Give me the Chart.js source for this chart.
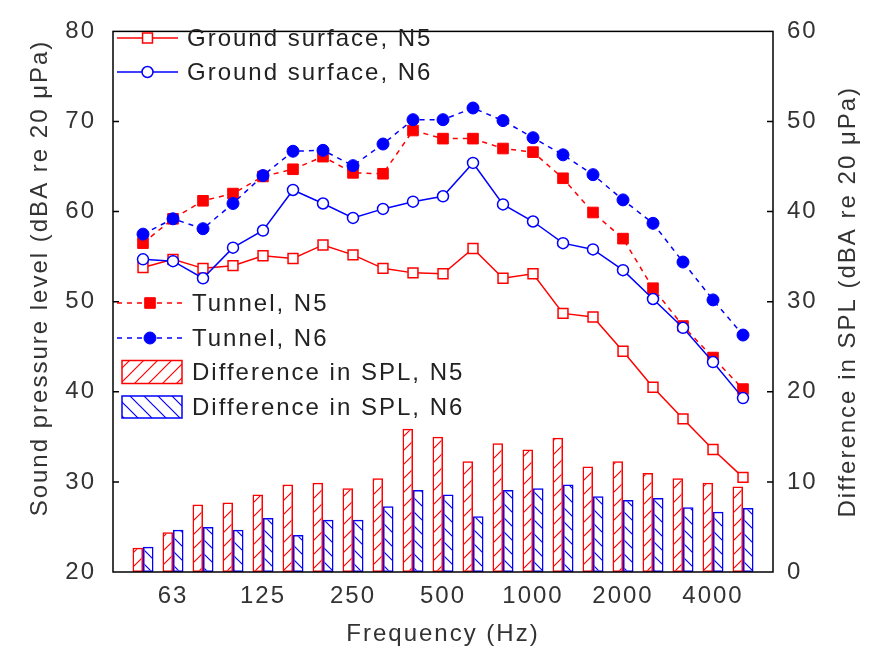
<!DOCTYPE html>
<html>
<head>
<meta charset="utf-8">
<script src="https://cdn.jsdelivr.net/npm/chart.js@4.4.1/dist/chart.umd.min.js"></script>
<style>
  html, body { margin: 0; padding: 0; background: #fff; }
</style>
</head>
<body>
<canvas id="splChart" width="875" height="653"></canvas>
<script>
// 1/3 octave band centre frequencies (Hz)
const freqLabels = ['50', '63', '80', '100', '125', '160', '200', '250', '315', '400', '500',
  '630', '800', '1000', '1250', '1600', '2000', '2500', '3150', '4000', '5000'];
const tickBands = ['63', '125', '250', '500', '1000', '2000', '4000'];

// Sound pressure level, dBA (left axis)
const groundN5 = [53.8, 54.7, 53.7, 54.0, 55.1, 54.8, 56.3, 55.2, 53.7, 53.2, 53.1, 55.9, 52.6, 53.1, 48.7, 48.3, 44.5, 40.5, 37.0, 33.6, 30.5];
const groundN6 = [54.7, 54.5, 52.6, 56.0, 57.9, 62.4, 60.9, 59.3, 60.3, 61.1, 61.7, 65.4, 60.8, 58.9, 56.5, 55.8, 53.5, 50.3, 47.1, 43.3, 39.3];
const tunnelN5 = [56.5, 59.2, 61.2, 62.0, 63.9, 64.7, 66.1, 64.3, 64.2, 69.0, 68.1, 68.1, 67.0, 66.6, 63.7, 59.9, 57.0, 51.5, 47.3, 43.8, 40.3];
const tunnelN6 = [57.5, 59.2, 58.1, 60.9, 64.0, 66.7, 66.8, 65.1, 67.5, 70.2, 70.2, 71.5, 70.1, 68.2, 66.3, 64.1, 61.3, 58.7, 54.4, 50.2, 46.3];

// Difference in SPL, dB (right axis)
const diffN5 = [2.7, 4.4, 7.5, 7.7, 8.6, 9.7, 9.9, 9.3, 10.4, 15.9, 15.0, 12.3, 14.3, 13.6, 14.9, 11.7, 12.3, 11.0, 10.4, 9.9, 9.5];
const diffN6 = [2.8, 4.7, 5.0, 4.7, 6.0, 4.1, 5.8, 5.8, 7.3, 9.1, 8.6, 6.2, 9.1, 9.3, 9.7, 8.4, 8.0, 8.2, 7.2, 6.7, 7.1];

const leftTitle = 'Sound pressure level (dBA re 20 μPa)';
const rightTitle = 'Difference in SPL (dBA re 20 μPa)';

const RED = '#ff0000';
const BLUE = '#0000ff';
const TEXT = '#333333';
const FONT = "24px 'Liberation Sans', Arial, sans-serif";

Chart.defaults.font.family = "'Liberation Sans', Arial, sans-serif";
Chart.defaults.font.size = 24;
Chart.defaults.color = TEXT;

// band index -> point
function pts(values) {
  return values.map((v, i) => ({ x: i, y: v }));
}

// diagonal hatch fill for the bars
function hatch(color, dir) {
  const s = 14;
  const c = document.createElement('canvas');
  c.width = s; c.height = s;
  const g = c.getContext('2d');
  g.strokeStyle = color;
  g.lineWidth = 1.2;
  g.beginPath();
  if (dir > 0) {
    g.moveTo(0, s); g.lineTo(s, 0);
    g.moveTo(-s / 2, s / 2); g.lineTo(s / 2, -s / 2);
    g.moveTo(s / 2, s * 1.5); g.lineTo(s * 1.5, s / 2);
  } else {
    g.moveTo(0, 0); g.lineTo(s, s);
    g.moveTo(-s / 2, s / 2); g.lineTo(s / 2, s * 1.5);
    g.moveTo(s / 2, -s / 2); g.lineTo(s * 1.5, s / 2);
  }
  g.stroke();
  return g.createPattern(c, 'repeat');
}

const redHatch = hatch(RED, 1);
const blueHatch = hatch(BLUE, -1);

// letter spacing like the original figure
const spacing = {
  id: 'spacing',
  beforeLayout(chart) { chart.ctx.letterSpacing = '2px'; },
  beforeDraw(chart) { chart.ctx.letterSpacing = '2px'; }
};

function verticalText(ctx, t, x, y) {
  ctx.save();
  ctx.letterSpacing = '2px';
  ctx.font = FONT;
  ctx.fillStyle = TEXT;
  ctx.textAlign = 'center';
  ctx.textBaseline = 'middle';
  ctx.translate(x, y);
  ctx.rotate(-Math.PI / 2);
  ctx.fillText(t, 0, 0);
  ctx.restore();
}

// plot frame, inward tick marks, axis titles (both read bottom to top)
const frameTicks = {
  id: 'frameTicks',
  afterDatasetsDraw(chart) {
    const { ctx, chartArea: a, scales } = chart;
    ctx.save();
    ctx.strokeStyle = '#000';
    ctx.lineWidth = 1.5;
    ctx.strokeRect(a.left, a.top, a.right - a.left, a.bottom - a.top);
    ctx.beginPath();
    for (let v = 30; v <= 70; v += 10) {
      const y = scales.y.getPixelForValue(v);
      ctx.moveTo(a.left, y); ctx.lineTo(a.left + 6, y);
    }
    for (let v = 10; v <= 50; v += 10) {
      const y = scales.y2.getPixelForValue(v);
      ctx.moveTo(a.right, y); ctx.lineTo(a.right - 6, y);
    }
    ctx.stroke();
    ctx.restore();

    verticalText(ctx, leftTitle, 40, 278);
    verticalText(ctx, rightTitle, 848, (a.top + a.bottom) / 2);
  }
};

// two legend blocks inside the plot
const legendBlocks = {
  id: 'legendBlocks',
  afterDraw(chart) {
    const ctx = chart.ctx;
    const ds = chart.data.datasets;
    const byLabel = l => ds.find(d => d.label === l);

    function marker(d, x, y) {
      ctx.save();
      ctx.lineWidth = d.pointBorderWidth || 1.5;
      ctx.strokeStyle = d.pointBorderColor;
      ctx.fillStyle = d.pointBackgroundColor;
      ctx.setLineDash([]);
      ctx.beginPath();
      if (d.pointStyle === 'rect') {
        const h = d.pointRadius * Math.SQRT1_2;
        ctx.rect(x - h, y - h, 2 * h, 2 * h);
      } else {
        ctx.arc(x, y, d.pointRadius, 0, Math.PI * 2);
      }
      ctx.fill();
      ctx.stroke();
      ctx.restore();
    }

    function text(t, x, y) {
      ctx.save();
      ctx.letterSpacing = '2px';
      ctx.font = FONT;
      ctx.fillStyle = '#222';
      ctx.textAlign = 'left';
      ctx.textBaseline = 'middle';
      ctx.fillText(t, x, y + 1);
      ctx.restore();
    }

    function lineItem(d, x0, x1, y, tx) {
      ctx.save();
      ctx.strokeStyle = d.borderColor;
      ctx.lineWidth = d.borderWidth;
      ctx.setLineDash(d.borderDash || []);
      ctx.beginPath();
      ctx.moveTo(x0, y); ctx.lineTo(x1, y);
      ctx.stroke();
      ctx.restore();
      marker(d, (x0 + x1) / 2, y);
      text(d.label, tx, y);
    }

    function boxItem(d, x, y, w, h, tx) {
      ctx.save();
      ctx.fillStyle = d.backgroundColor;
      ctx.fillRect(x, y - h / 2, w, h);
      ctx.strokeStyle = d.borderColor;
      ctx.lineWidth = d.borderWidth;
      ctx.strokeRect(x, y - h / 2, w, h);
      ctx.restore();
      text(d.label, tx, y);
    }

    lineItem(byLabel('Ground surface, N5'), 117, 178, 38, 187);
    lineItem(byLabel('Ground surface, N6'), 117, 178, 72, 187);
    lineItem(byLabel('Tunnel, N5'), 117, 183, 303, 192);
    lineItem(byLabel('Tunnel, N6'), 117, 183, 338, 192);
    boxItem(byLabel('Difference in SPL, N5'), 122, 372, 60, 23, 192);
    boxItem(byLabel('Difference in SPL, N6'), 122, 407, 60, 22, 192);
  }
};

const ctx = document.getElementById('splChart');
new Chart(ctx, {
  data: {
    datasets: [
      {
        type: 'bar', label: 'Difference in SPL, N5', data: pts(diffN5), yAxisID: 'y2',
        backgroundColor: redHatch, borderColor: RED, borderWidth: 1.5, borderSkipped: false,
        categoryPercentage: 0.7, barPercentage: 1, order: 10
      },
      {
        type: 'bar', label: 'Difference in SPL, N6', data: pts(diffN6), yAxisID: 'y2',
        backgroundColor: blueHatch, borderColor: BLUE, borderWidth: 1.5, borderSkipped: false,
        categoryPercentage: 0.7, barPercentage: 1, order: 10
      },
      {
        type: 'line', label: 'Tunnel, N5', data: pts(tunnelN5), yAxisID: 'y',
        borderColor: RED, borderWidth: 1.5, borderDash: [5, 5], tension: 0,
        pointStyle: 'rect', pointRadius: 7.5, pointBackgroundColor: RED, pointBorderColor: RED,
        pointBorderWidth: 1, order: 4
      },
      {
        type: 'line', label: 'Ground surface, N5', data: pts(groundN5), yAxisID: 'y',
        borderColor: RED, borderWidth: 1.5, tension: 0,
        pointStyle: 'rect', pointRadius: 7, pointBackgroundColor: '#ffffff', pointBorderColor: RED,
        pointBorderWidth: 1.5, order: 3
      },
      {
        type: 'line', label: 'Ground surface, N6', data: pts(groundN6), yAxisID: 'y',
        borderColor: BLUE, borderWidth: 1.5, tension: 0,
        pointStyle: 'circle', pointRadius: 5.5, pointBackgroundColor: '#ffffff', pointBorderColor: BLUE,
        pointBorderWidth: 1.5, order: 2
      },
      {
        type: 'line', label: 'Tunnel, N6', data: pts(tunnelN6), yAxisID: 'y',
        borderColor: BLUE, borderWidth: 1.5, borderDash: [5, 5], tension: 0,
        pointStyle: 'circle', pointRadius: 6, pointBackgroundColor: BLUE, pointBorderColor: BLUE,
        pointBorderWidth: 1, order: 1
      }
    ]
  },
  options: {
    responsive: false,
    animation: false,
    layout: { padding: { top: 22, left: 0, right: 0, bottom: 0 } },
    plugins: {
      legend: { display: false },
      tooltip: { enabled: false }
    },
    scales: {
      x: {
        type: 'linear', min: -1, max: 21, offset: false,
        grid: { display: false, drawTicks: false, offset: false },
        border: { display: false },
        afterBuildTicks: s => { s.ticks = tickBands.map(b => ({ value: freqLabels.indexOf(b) })); },
        afterFit: s => { s.height = 81; },
        ticks: { autoSkip: false, maxRotation: 0, padding: 10, callback: v => freqLabels[v] },
        title: { display: true, text: 'Frequency (Hz)', padding: { top: 0, bottom: 4 } }
      },
      y: {
        position: 'left', min: 20, max: 80,
        grid: { display: false, drawTicks: false },
        border: { display: false },
        afterFit: s => { s.width = 113; },
        ticks: { stepSize: 10, padding: 17 },
        title: { display: false }
      },
      y2: {
        position: 'right', min: 0, max: 60,
        grid: { display: false, drawTicks: false },
        border: { display: false },
        afterFit: s => { s.width = 102; },
        ticks: { stepSize: 10, padding: 14 },
        title: { display: false }
      }
    }
  },
  plugins: [spacing, frameTicks, legendBlocks]
});
</script>
</body>
</html>
